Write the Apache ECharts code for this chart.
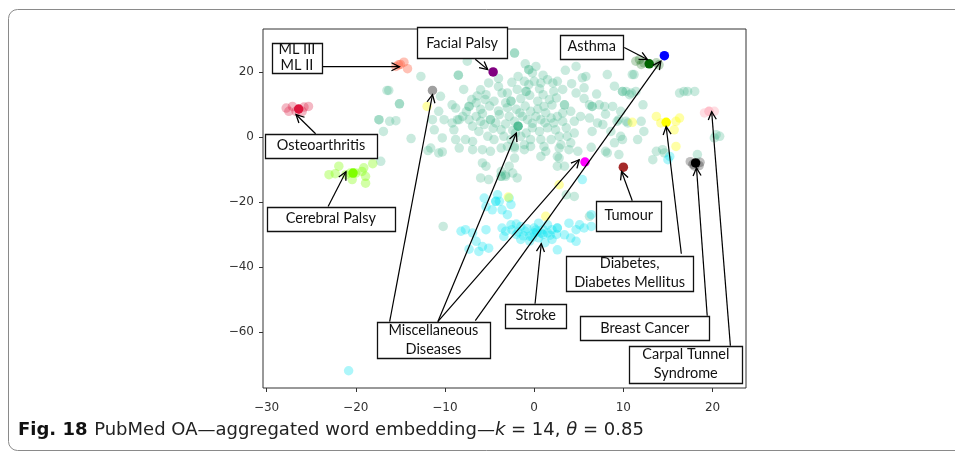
<!DOCTYPE html>
<html>
<head>
<meta charset="utf-8">
<script src="https://cdn.jsdelivr.net/npm/echarts@6/dist/echarts.min.js"></script>
<style>
  html, body { margin: 0; padding: 0; background: #fff; }
  #chart { width: 955px; height: 452px; }
</style>
</head>
<body>
<div id="chart"></div>
<script>
// t-SNE style projection of aggregated word embeddings (k = 14, θ = 0.85)

const xTicks = [-30, -20, -10, 0, 10, 20];
const yTicks = [20, 0, -20, -40, -60];

// Background topics (light teal cloud)
const greenCloud = [
  [-12.7,18.6],[-8.5,19.0],[-8.5,19.0],[-7.5,23.3],[-16.5,14.3],[-16.3,14.3],[-15.1,10.2],[-15.1,10.2],
  [-17.4,5.3],[-17.4,5.3],[-16.2,4.8],[-15.5,5.0],[-16.9,1.7],[-13.8,-0.5],[-10.7,7.9],[-10.5,12.5],
  [-11.4,5.3],[-11.2,2.2],[-9.0,2.2],[-7.9,14.6],[-7.3,9.4],[-7.3,9.4],[-5.1,16.6],[-5.4,13.0],
  [-8.6,5.3],[-8.0,6.3],[-7.3,5.3],[-6.9,3.3],[-6.5,6.3],[-6.0,4.8],[-5.6,3.8],[-4.9,5.3],[-4.9,5.3],
  [-4.3,4.3],[-3.9,6.9],[-3.7,2.2],[-3.4,0.2],[-6.2,1.7],[-5.2,0.2],[-4.5,-0.8],[-8.8,-0.8],[-7.7,-0.8],
  [-6.9,-1.4],[-3.6,13.5],[-3.2,10.5],[-4.5,11.0],
  [-9.2,9.9],[-8.8,8.9],[-10.1,5.3],[-9.2,4.3],[-8.4,5.3],[-10.3,-0.3],[-11.6,-3.4],[-10.7,-4.9],
  [-10.3,-4.6],[-17.2,-7.5],[-11.9,-4.2],
  [-2.2,25.8],[-2.2,25.8],[4.7,21.7],[-0.6,20.7],[-0.6,20.7],[-0.2,19.7],[0.2,21.7],[-1.1,17.1],
  [-0.6,16.1],[0.0,17.1],[0.75,16.6],[1.5,17.6],[2.1,16.6],[2.6,17.1],[-0.9,14.0],[-0.9,14.0],
  [-1.9,14.6],[-3.0,13.5],[2.2,14.0],[3.2,14.6],[4.7,13.5],[5.6,15.1],[5.4,18.2],[5.8,18.6],
  [8.2,19.2],[9.0,15.6],[9.9,14.0],[9.9,14.0],[10.3,14.0],[10.7,13.0],[11.0,19.2],[-2.6,11.0],
  [-2.6,11.0],[0.4,11.0],[1.1,9.4],[1.7,11.5],[3.4,9.9],[3.4,9.9],[3.2,7.4],[4.1,7.9],[6.2,9.9],
  [6.5,9.4],[6.5,9.4],[7.3,9.9],[7.9,9.4],[8.8,9.4],[4.5,4.8],[5.2,6.3],[6.2,5.8],[7.1,4.3],
  [7.7,3.8],[6.5,1.7],[8.6,1.7],[9.3,4.8],[10.5,4.3],[12.0,4.8],[9.7,0.2],[11.6,-0.8],
  [-2.8,6.3],[-2.2,4.8],[-1.3,6.3],[-0.75,5.3],[-0.4,7.9],[0.2,6.3],[0.75,5.3],[1.3,7.4],[1.9,5.8],
  [2.2,4.3],[2.6,6.3],[3.2,4.8],[3.6,2.8],[2.4,2.2],[1.5,2.8],[0.6,1.7],[-0.2,2.8],[-0.9,1.2],
  [-1.5,0.2],[-2.1,1.2],[-2.6,-0.8],[-0.4,-0.8],[0.75,-0.8],[1.9,-0.8],[2.8,0.2],[3.7,0.2],
  [4.5,1.2],[4.1,-1.8],[3.0,-2.4],[-1.1,-2.4],[-2.2,-2.9],[1.1,-2.9],
  [-6.0,8.5],[-5.0,9.5],[-4.0,8.0],[-6.5,10.5],[-5.5,11.5],[-2.0,8.5],[-1.0,9.5],[-3.0,9.0],
  [-1.5,11.8],[-0.5,12.8],[1.0,13.0],[2.5,12.0],[-7.0,11.5],[-6.0,14.5],[-4.0,15.5],[-2.5,16.8],
  [1.0,19.0],[3.5,20.5],[-1.0,22.5],[-4.0,18.0],
  [-5.8,7.2],[-4.6,2.6],[-3.2,4.0],[-1.6,7.4],[0.4,8.6],[2.0,9.8],[-0.2,4.2],[1.2,4.4],[-2.4,2.0],
  [-7.6,7.8],[-6.4,12.6],[-1.8,18.6],[0.6,14.8],[4.2,16.4],[7.0,13.2],[8.0,7.0],[5.6,11.8],
  [11.2,19.2],[12.2,9.9],[9.7,7.9],[9.5,5.3],[13.7,-4.4],[14.4,-3.9],[16.8,14.0],[18.0,14.0],
  [16.3,13.5],[20.8,0.2],[20.4,0.7],[13.3,-7.0],[8.2,-4.9],[9.0,-1.8],[2.6,-6.0],[3.4,-9.0],
  [3.6,-17.8],[10.9,13.5],[11.4,14.0],[17.2,14.0],[12.3,1.7],[10.3,4.8],[20.2,-0.3],[14.6,-4.9],
  [18.3,-5.4],[9.9,-0.8],[9.5,-5.4],
  [-8.4,-3.4],[-6.9,-3.9],[-5.8,-3.9],[-4.9,-4.4],[-3.7,-3.4],[-5.8,-8.0],[-5.4,-9.0],[-6.0,-12.6],
  [-5.1,-13.1],[-3.7,-12.1],[-3.7,-12.1],[-3.7,-10.6],[-3.2,-11.6],[-10.2,-27.5],
  [-3.0,-2.9],[-2.2,-3.4],[-1.1,-3.9],[-0.4,-2.9],[0.75,-6.0],[1.3,-4.4],[2.8,-3.4],[3.9,-3.9],
  [4.9,-4.4],[6.4,-3.2],[8.0,-4.4],[-2.2,-6.5],[-2.8,-9.0],[-2.4,-11.1],[-1.9,-12.6],[-3.2,-12.1],
  [2.6,-9.0],[2.8,-6.5],[4.5,-18.3],[6.2,-24.4]
];

// Stroke cluster and nearby cyan topics
const strokeCyan = [
  [-2.5,-28.5],[-2.0,-30.0],[-1.5,-27.5],[-1.0,-29.0],[-0.5,-30.5],[0.0,-28.0],[0.0,-29.5],[0.5,-31.0],
  [1.0,-28.5],[1.0,-30.0],[1.5,-27.0],[1.5,-29.5],[2.0,-31.5],[2.0,-28.5],[-0.5,-32.0],[0.5,-26.5],
  [-1.5,-31.5],[2.5,-30.0],[0.3,-29.2],[-0.8,-28.2],[1.2,-32.5],[-2.0,-26.8],
  [-1.2,-30.4],[0.8,-29.6],[-0.2,-30.8],[1.8,-30.2],[0.2,-28.6],[-1.8,-29.2],
  [2.6,-28.0],[2.6,-28.0],[2.6,-34.7],[4.7,-32.1],[3.9,-26.5],[4.7,-28.5],[3.4,-30.1],[4.1,-31.1],
  [5.6,-28.0],[5.1,-27.0],[6.4,-27.5],[6.4,-23.9],[-5.4,-28.5],[-5.1,-34.2],[-5.8,-33.7],
  [-3.9,-19.8],[-2.8,-18.8],[-2.6,-20.8],[-3.0,-23.9],[-2.6,-27.0],[-3.2,-29.0],[-5.6,-18.8],
  [-4.3,-19.8],[-4.3,-19.8],[-4.1,-17.8],[-5.4,-21.4],[-3.6,-22.4],[-4.7,-22.4],[-8.2,-29.0],
  [-7.7,-28.5],[-6.9,-29.5],[-3.6,-28.0],[-3.4,-30.6],[-6.5,-32.1],[-7.3,-34.5],[-6.2,-35.2],
  [5.4,-13.1],[15.2,-6.0],[15.0,-7.0],[-20.8,-71.9]
];

const diabetesFaint = [[-12.0,9.4],[13.7,6.3],[14.2,4.3],[15.9,4.8],[16.3,5.8],[15.7,2.2],[15.9,-2.9],
  [11.0,4.5],[2.8,-14.7],[-2.9,-18.5],[1.3,-24.4]];
const cerebralFaint = [[-23.0,-11.6],[-22.3,-11.3],[-21.9,-9.0],[-21.1,-11.6],[-20.6,-11.1],[-20.0,-11.1],
  [-19.3,-10.6],[-18.9,-12.1],[-18.9,-14.2],[-20.4,-13.1],[-18.1,-8.2],[-19.1,-9.5]];
const osteoFaint = [[-27.8,8.9],[-27.1,9.4],[-25.8,9.2],[-25.3,9.4],[-27.5,7.9],[-26.7,7.9],[-26.0,7.9]];
const mlFaint = [[-15.2,22.2],[-14.6,23.0],[-14.2,21.0],[-15.5,21.7],[-15.0,22.3]];
const asthmaFaint = [[11.4,23.3],[11.8,23.8],[12.3,22.8],[13.7,22.8],[14.0,22.2],[12.0,22.3]];
const breastFaint = [[17.5,-7.6],[18.6,-7.8],[18.0,-9.0],[17.8,-8.4],[18.5,-8.8]];
const carpalFaint = [[19.1,7.4],[20.2,7.9]];

// Cluster representatives
const miscCentre = [[-1.8,3.3]];
const miscGrey = [[-11.4,14.3]];
const miscMagenta = [[5.7,-7.7]];
const miscBlue = [[14.6,25.0]];
const facialPalsy = [[-4.6,20.0]];
const asthma = [[12.9,22.5]];
const osteoarthritis = [[-26.4,8.6]];
const cerebralPalsy = [[-20.3,-11.1]];
const tumour = [[10.0,-9.3]];
const diabetes = [[14.8,4.5]];
const breastCancer = [[18.1,-8.0]];
const carpalTunnel = [[19.6,7.9]];

// Annotation boxes: text and centre (data units)
const annLabels = ['ML III\nML II', 'Facial Palsy', 'Asthma', 'Osteoarthritis', 'Cerebral Palsy',
  'Miscellaneous\nDiseases', 'Tumour', 'Stroke', 'Diabetes,\nDiabetes Mellitus', 'Breast Cancer',
  'Carpal Tunnel\nSyndrome'];
const annCentres = [[-26.6,24.4],[-8.08,28.9],[6.45,27.8],[-23.9,-2.7],[-22.8,-25.1],[-11.3,-62.4],
  [10.6,-24.2],[0.17,-55.0],[10.7,-41.9],[12.4,-58.7],[17.0,-69.9]];
// Arrows: tail and tip (data units)
const arrowFrom = [[-23.8,21.6],[-6.6,23.9],[10.1,27.5],[-24.5,1.0],[-23.1,-21.4],[-16.2,-56.8],
  [-10.8,-56.8],[-10.8,-56.8],[-6.6,-56.5],[11.0,-19.6],[0.1,-51.3],[16.5,-35.9],[19.4,-55.0],[22.0,-64.2]];
const arrowTo = [[-15.1,21.6],[-5.2,20.7],[12.7,23.8],[-26.7,6.9],[-21.1,-10.7],[-11.4,13.0],
  [-2.0,1.2],[5.05,-7.0],[14.2,23.3],[9.8,-10.6],[0.8,-32.8],[14.8,3.2],[18.2,-9.5],[19.9,7.8]];

// box sizes in px
const boxSize = [[50,30],[90,31],[63,24],[112,24],[128,24],[113,36],[65,30],[61,24],[127,35],[129,24],[113,37]];

const chart = echarts.init(document.getElementById('chart'), null, { renderer: 'canvas' });

function layer(name, data, color, opacity, z) {
  return {
    name, type: 'scatter', data, symbol: 'circle', symbolSize: 9.5, z: z || 2,
    itemStyle: { color, opacity, borderWidth: 0 },
    emphasis: { disabled: true }, silent: true
  };
}

const minus = v => String(v).replace('-', '\u2212');
const axisFont = { fontFamily: 'DejaVu Sans', fontSize: 12, color: '#333' };

chart.setOption({
  animation: false,
  grid: { left: 263, top: 29, width: 483, height: 359, show: true, borderColor: '#333', borderWidth: 1, backgroundColor: 'transparent' },
  xAxis: {
    type: 'value', min: -30.4, max: 23.75, position: 'bottom',
    axisLine: { show: false, onZero: false }, splitLine: { show: false },
    axisTick: { show: true, length: 4, customValues: xTicks, lineStyle: { color: '#333' } },
    axisLabel: Object.assign({ customValues: xTicks, margin: 14, formatter: minus }, axisFont)
  },
  yAxis: {
    type: 'value', min: -77.2, max: 33.2, position: 'left',
    axisLine: { show: false, onZero: false }, splitLine: { show: false },
    axisTick: { show: true, length: 4, customValues: yTicks, lineStyle: { color: '#333' } },
    axisLabel: Object.assign({ customValues: yTicks, margin: 9, formatter: minus }, axisFont)
  },
  series: [
    layer('background', greenCloud, 'rgb(60,180,135)', 0.28),
    layer('stroke', strokeCyan, 'rgb(0,228,240)', 0.32),
    layer('diabetes-faint', diabetesFaint, 'rgb(255,255,0)', 0.35),
    layer('cerebral-faint', cerebralFaint, 'rgb(127,255,0)', 0.35),
    layer('osteo-faint', osteoFaint, 'rgb(220,20,60)', 0.3),
    layer('ml-faint', mlFaint, 'rgb(255,99,71)', 0.4),
    layer('asthma-faint', asthmaFaint, 'rgb(0,100,0)', 0.25),
    layer('breast-faint', breastFaint, 'rgb(0,0,0)', 0.25),
    layer('carpal-faint', carpalFaint, 'rgb(255,182,193)', 0.45),
    layer('misc-centre', miscCentre, 'rgb(60,180,135)', 0.85, 3),
    layer('misc-grey', miscGrey, '#a0a0a0', 1, 3),
    layer('misc-magenta', miscMagenta, '#ff00ff', 1, 3),
    layer('misc-blue', miscBlue, '#0000ff', 1, 3),
    layer('facial-palsy', facialPalsy, '#800080', 1, 3),
    layer('asthma', asthma, '#006400', 1, 3),
    layer('osteoarthritis', osteoarthritis, '#dc143c', 1, 3),
    layer('cerebral-palsy', cerebralPalsy, '#7fff00', 1, 3),
    layer('tumour', tumour, '#a52a2a', 1, 3),
    layer('diabetes', diabetes, '#ffff00', 1, 3),
    layer('breast-cancer', breastCancer, '#000000', 1, 3),
    layer('carpal-tunnel', carpalTunnel, '#ffc0cb', 1, 3)
  ]
});

function px(pt) { return chart.convertToPixel({ xAxisIndex: 0, yAxisIndex: 0 }, pt); }

function buildGraphics() {
  const g = [];
  // figure panel outline
  g.push({ type: 'rect', shape: { x: 8.5, y: 9.5, width: 1000, height: 441, r: 9 },
    style: { fill: 'none', stroke: '#8a8a8a', lineWidth: 1 }, z: 0, silent: true });

  // arrows
  arrowFrom.forEach((from, i) => {
    const a = px(from), b = px(arrowTo[i]);
    const dx = b[0] - a[0], dy = b[1] - a[1];
    const len = Math.hypot(dx, dy), ux = dx / len, uy = dy / len;
    const hl = 8, hw = 4;
    g.push({ type: 'line', shape: { x1: a[0], y1: a[1], x2: b[0], y2: b[1] },
      style: { stroke: '#000', lineWidth: 1.2 }, z: 50, silent: true });
    g.push({ type: 'polyline', shape: { points: [
      [b[0] - hl * ux - hw * uy, b[1] - hl * uy + hw * ux], b,
      [b[0] - hl * ux + hw * uy, b[1] - hl * uy - hw * ux]] },
      style: { stroke: '#000', lineWidth: 1.3, fill: 'none' }, z: 50, silent: true });
  });

  // label boxes
  annLabels.forEach((t, i) => {
    const c = px(annCentres[i]);
    const w = boxSize[i][0], h = boxSize[i][1];
    g.push({ type: 'rect', shape: { x: Math.round(c[0] - w / 2) + 0.5, y: Math.round(c[1] - h / 2) + 0.5, width: w, height: h },
      style: { fill: '#fff', stroke: '#111', lineWidth: 1.3 }, z: 60, silent: true });
    g.push({ type: 'text', x: c[0], y: c[1], z: 61, silent: true,
      style: { text: t, font: '14.5px Lato', fill: '#111', align: 'center', verticalAlign: 'middle', lineHeight: i === 0 ? 16 : 19 } });
  });

  // caption
  g.push({ type: 'text', left: 18, top: 421, z: 70, silent: true,
    style: {
      text: '{b|Fig. 18}  {r|PubMed OA\u2014aggregated word embedding\u2014}{i|k}{r| = 14, }{i|\u03b8}{r| = 0.85}',
      rich: {
        b: { fontFamily: 'DejaVu Sans', fontSize: 18, fontWeight: 'bold', fill: '#111' },
        r: { fontFamily: 'DejaVu Sans', fontSize: 18, fill: '#222' },
        i: { fontFamily: 'DejaVu Sans', fontSize: 18, fontStyle: 'italic', fill: '#222' }
      }
    } });
  return g;
}

chart.setOption({ graphic: buildGraphics() });
</script>
</body>
</html>
